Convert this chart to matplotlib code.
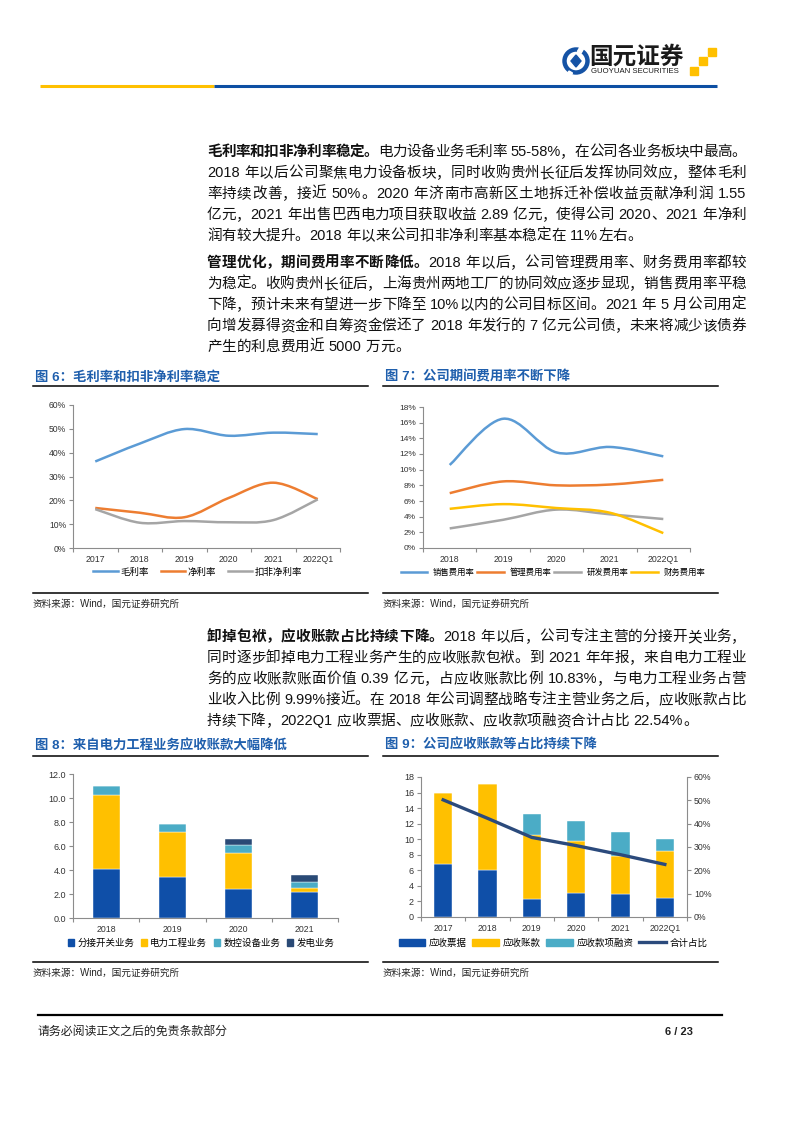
import re
import numpy as np
import matplotlib
matplotlib.use('Agg')
import matplotlib.pyplot as plt
from matplotlib.path import Path
from matplotlib.patches import PathPatch, Rectangle, Circle, Polygon, Patch
from matplotlib.lines import Line2D

plt.rcParams['font.family'] = ['Liberation Sans', 'Noto Sans CJK SC', 'DejaVu Sans']

# ---- data -------------------------------------------------------------
years6 = ['2017', '2018', '2019', '2020', '2021', '2022Q1']
gross_margin = [36.3, 43.8, 49.9, 47.1, 48.4, 47.8]
net_margin = [16.8, 14.8, 12.9, 21.0, 27.4, 20.5]
core_net_margin = [16.3, 10.6, 11.3, 10.8, 11.7, 20.4]
labels6 = ['毛利率', '净利率', '扣非净利率']

years7 = ['2018', '2019', '2020', '2021', '2022Q1']
sales_rate = [10.6, 16.5, 12.2, 12.9, 11.7]
admin_rate = [7.0, 8.5, 8.0, 8.1, 8.7]
rd_rate = [2.5, 3.6, 4.9, 4.3, 3.7]
fin_rate = [5.0, 5.6, 5.1, 4.5, 1.9]
labels7 = ['销售费用率', '管理费用率', '研发费用率', '财务费用率']

years8 = ['2018', '2019', '2020', '2021']
tap_changer = [4.10, 3.39, 2.39, 2.14]
power_eng = [6.18, 3.78, 3.05, 0.39]
cnc_equip = [0.75, 0.66, 0.67, 0.45]
power_gen = [0.0, 0.0, 0.50, 0.58]
labels8 = ['分接开关业务', '电力工程业务', '数控设备业务', '发电业务']

years9 = ['2017', '2018', '2019', '2020', '2021', '2022Q1']
notes_recv = [6.8, 6.1, 2.3, 3.1, 2.9, 2.4]
accounts_recv = [9.1, 11.0, 8.2, 6.7, 5.0, 6.1]
recv_financing = [0.0, 0.0, 2.8, 2.5, 3.0, 1.5]
total_ratio = [50.2, 42.3, 34.1, 30.6, 26.7, 22.54]
labels9 = ['应收票据', '应收账款', '应收款项融资', '合计占比']

para1 = [
    [('毛利率和扣非净利率稳定。', 'heavy'), ('电力设备业务毛利率 55-58%，在公司各业务板块中最高。', 'normal')],
    [('2018 年以后公司聚焦电力设备板块，同时收购贵州长征后发挥协同效应，整体毛利', 'normal')],
    [('率持续改善，接近 50%。2020 年济南市高新区土地拆迁补偿收益贡献净利润 1.55', 'normal')],
    [('亿元，2021 年出售巴西电力项目获取收益 2.89 亿元，使得公司 2020、2021 年净利', 'normal')],
    [('润有较大提升。2018 年以来公司扣非净利率基本稳定在 11%左右。', 'normal')],
]
para2 = [
    [('管理优化，期间费用率不断降低。', 'heavy'), ('2018 年以后，公司管理费用率、财务费用率都较', 'normal')],
    [('为稳定。收购贵州长征后，上海贵州两地工厂的协同效应逐步显现，销售费用率平稳', 'normal')],
    [('下降，预计未来有望进一步下降至 10%以内的公司目标区间。2021 年 5 月公司用定', 'normal')],
    [('向增发募得资金和自筹资金偿还了 2018 年发行的 7 亿元公司债，未来将减少该债券', 'normal')],
    [('产生的利息费用近 5000 万元。', 'normal')],
]
para3 = [
    [('卸掉包袱，应收账款占比持续下降。', 'heavy'), ('2018 年以后，公司专注主营的分接开关业务，', 'normal')],
    [('同时逐步卸掉电力工程业务产生的应收账款包袱。到 2021 年年报，来自电力工程业', 'normal')],
    [('务的应收账款账面价值 0.39 亿元，占应收账款比例 10.83%，与电力工程业务占营', 'normal')],
    [('业收入比例 9.99%接近。在 2018 年公司调整战略专注主营业务之后，应收账款占比', 'normal')],
    [('持续下降，2022Q1 应收票据、应收账款、应收款项融资合计占比 22.54%。', 'normal')],
]

BLUE_T = '#1F5FAD'
AXC = '#8C8C8C'
W, H = 793, 1122

fig = plt.figure(figsize=(W / 100, H / 100), dpi=100)
page = fig.add_axes([0, 0, 1, 1])
page.set_xlim(0, W)
page.set_ylim(H, 0)
page.axis('off')
renderer = fig.canvas.get_renderer()


def ax_px(l, t, r, b):
    return fig.add_axes([l / W, 1 - b / H, (r - l) / W, (b - t) / H])


def smooth_path(xs, ys):
    # Excel-like smoothed line as cubic Bezier segments
    pts = np.column_stack([xs, ys]).astype(float)
    n = len(pts)
    verts, codes = [pts[0]], [Path.MOVETO]
    for i in range(n - 1):
        p0 = pts[i - 1] if i > 0 else pts[i]
        p1, p2 = pts[i], pts[i + 1]
        p3 = pts[i + 2] if i + 2 < n else pts[i + 1]
        verts += [p1 + (p2 - p0) / 6, p2 - (p3 - p1) / 6, p2]
        codes += [Path.CURVE4] * 3
    return Path(verts, codes)


def style_axes(ax, cats, ysize=6.2):
    n = len(cats)
    for s in ['top', 'right']:
        ax.spines[s].set_visible(False)
    for s in ['left', 'bottom']:
        ax.spines[s].set_color(AXC)
        ax.spines[s].set_linewidth(0.8)
    ax.set_xlim(-0.5, n - 0.5)
    ax.set_xticks(range(n))
    ax.set_xticklabels(cats)
    ax.set_xticks(np.arange(-0.5, n), minor=True)
    ax.tick_params(axis='x', which='major', length=0, labelsize=6.3, pad=5, labelcolor='#333333')
    ax.tick_params(axis='x', which='minor', length=3, color=AXC, width=0.8)
    ax.tick_params(axis='y', length=3, color=AXC, width=0.8, labelsize=ysize, labelcolor='#333333', pad=2)
    ax.patch.set_alpha(0)


def put_line(x, y, parts, right=None, size=10.5):
    items = []
    for s, wt in parts:
        for tok in re.findall(r'[A-Za-z0-9.%\-]+| |.', s):
            if tok == ' ':
                items.append((None, size * 0.3 * 100 / 72))
            else:
                t = page.text(x, y, tok, fontsize=size, weight=wt, va='center', ha='left', color='#111111')
                items.append((t, t.get_window_extent(renderer).width))
    total = sum(w for _, w in items)
    gap = (right - x - total) / (len(items) - 1) if right else 0
    cx = x
    for t, w in items:
        if t is not None:
            t.set_x(cx)
        cx += w + gap


def put_para(lines, y0, step=21):
    for i, parts in enumerate(lines):
        last = i == len(lines) - 1
        put_line(207, y0 + i * step, parts, right=None if last else 746)


def frame(x0, x1, ytitle, yline, ybot, ysrc, title):
    page.text(x0 + 2, ytitle, title, color=BLUE_T, fontsize=9.6, weight='heavy', va='center')
    page.plot([x0, x1], [yline, yline], color='black', lw=1.1)
    page.plot([x0, x1], [ybot, ybot], color='black', lw=1.1)
    page.text(x0, ysrc, '资料来源：Wind，国元证券研究所', fontsize=6.9, va='center', color='#222222')


# ---- header ------------------------------------------------------------
page.plot([40, 214], [86, 86], color='#FFC000', lw=2.2, solid_capstyle='butt')
page.plot([214, 717], [86, 86], color='#0D4FA3', lw=2.2, solid_capstyle='butt')
page.add_patch(Circle((576, 61), 11.5, facecolor='white', edgecolor='#1553A5', lw=3.2))
page.add_patch(Polygon([(576, 55), (581, 61), (576, 67), (571, 61)], color='#1553A5'))
page.add_patch(Rectangle((580, 47), 4, 5, color='white', angle=30))
page.add_patch(Rectangle((569, 71), 4, 5, color='white', angle=30))
page.text(589, 57.5, '国元证券', fontsize=17, weight='bold', va='center', color='#1a1a1a')
page.text(591, 71.5, 'GUOYUAN SECURITIES', fontsize=5.6, va='center', color='#1a1a1a')
for sx, sy in [(708, 48), (699, 57), (690, 67)]:
    page.add_patch(Rectangle((sx, sy), 7.5, 7.5, color='#FFC000'))

# ---- body text -----------------------------------------------------------
put_para(para1, 152)
put_para(para2, 263)
put_para(para3, 637)

# ---- figure 6 ------------------------------------------------------------
frame(33, 368, 377, 386, 593, 604, '图 6：毛利率和扣非净利率稳定')
ax6 = ax_px(73, 405, 340, 548)
x6 = np.arange(len(years6))
handles = []
for vals, c in zip([gross_margin, net_margin, core_net_margin], ['#5B9BD5', '#ED7D31', '#A5A5A5']):
    ax6.add_patch(PathPatch(smooth_path(x6, vals), fill=False, edgecolor=c, lw=1.8))
    handles.append(Line2D([], [], color=c, lw=1.8))
style_axes(ax6, years6)
ax6.set_ylim(0, 60)
ax6.set_yticks(range(0, 61, 10))
ax6.set_yticklabels([f'{v}%' for v in range(0, 61, 10)])
fig.legend(handles, labels6, loc='center', bbox_to_anchor=(198 / W, 1 - 572 / H), ncol=3,
           frameon=False, fontsize=6.8, handlelength=2.6, handletextpad=0.3, columnspacing=1.2)

# ---- figure 7 ------------------------------------------------------------
frame(383, 718, 377, 386, 593, 604, '图 7：公司期间费用率不断下降')
ax7 = ax_px(423, 407, 690, 548)
x7 = np.arange(len(years7))
handles = []
for vals, c in zip([sales_rate, admin_rate, rd_rate, fin_rate], ['#5B9BD5', '#ED7D31', '#A5A5A5', '#FFC000']):
    ax7.add_patch(PathPatch(smooth_path(x7, vals), fill=False, edgecolor=c, lw=1.8))
    handles.append(Line2D([], [], color=c, lw=1.8))
style_axes(ax7, years7, ysize=6)
ax7.set_ylim(0, 18)
ax7.set_yticks(range(0, 19, 2))
ax7.set_yticklabels([f'{v}%' for v in range(0, 19, 2)])
fig.legend(handles, labels7, loc='center', bbox_to_anchor=(553 / W, 1 - 573 / H), ncol=4,
           frameon=False, fontsize=6, handlelength=3.2, handletextpad=0.7, columnspacing=0.3)

# ---- figure 8 ------------------------------------------------------------
frame(33, 368, 745, 756, 962, 973, '图 8：来自电力工程业务应收账款大幅降低')
ax8 = ax_px(73, 774, 338, 918)
x8 = np.arange(len(years8))
bottom = np.zeros(len(years8))
cols8 = ['#0F4FA8', '#FFC000', '#4BACC6', '#2A4A76']
for vals, c, lab in zip([tap_changer, power_eng, cnc_equip, power_gen], cols8, labels8):
    ax8.bar(x8, vals, 0.41, bottom=bottom, color=c, label=lab, edgecolor='white', linewidth=0.3)
    bottom += np.array(vals)
style_axes(ax8, years8)
ax8.set_ylim(0, 12)
ax8.set_yticks(np.arange(0, 12.1, 2))
ax8.set_yticklabels([f'{v:.1f}' for v in np.arange(0, 12.1, 2)])
ax8.tick_params(axis='y', labelsize=6.5)
h8 = [Patch(color=c) for c in cols8]
fig.legend(h8, labels8, loc='center', bbox_to_anchor=(201 / W, 1 - 943 / H), ncol=4,
           frameon=False, fontsize=6.8, handlelength=0.7, handleheight=0.7,
           handletextpad=0.3, columnspacing=0.7)

# ---- figure 9 ------------------------------------------------------------
frame(383, 718, 745, 756, 962, 973, '图 9：公司应收账款等占比持续下降')
ax9 = ax_px(421, 777, 687, 917)
x9 = np.arange(len(years9))
bottom = np.zeros(len(years9))
cols9 = ['#0F4FA8', '#FFC000', '#4BACC6']
for vals, c in zip([notes_recv, accounts_recv, recv_financing], cols9):
    ax9.bar(x9, vals, 0.41, bottom=bottom, color=c, edgecolor='white', linewidth=0.3)
    bottom += np.array(vals)
style_axes(ax9, years9)
ax9.set_ylim(0, 18)
ax9.set_yticks(range(0, 19, 2))
ax9.tick_params(axis='y', labelsize=6.5)
ax9r = ax9.twinx()
ax9r.plot(x9, total_ratio, color='#2B4A7C', lw=2.4)
ax9r.set_ylim(0, 60)
ax9r.set_yticks(range(0, 61, 10))
ax9r.set_yticklabels([f'{v}%' for v in range(0, 61, 10)])
for s in ['top', 'left', 'bottom']:
    ax9r.spines[s].set_visible(False)
ax9r.spines['right'].set_color(AXC)
ax9r.spines['right'].set_linewidth(0.8)
ax9r.tick_params(axis='y', length=3, color=AXC, width=0.8, labelsize=6.3, labelcolor='#333333', pad=2)
h9 = [Patch(color=c) for c in cols9] + [Line2D([], [], color='#2B4A7C', lw=2.4)]
fig.legend(h9, labels9, loc='center', bbox_to_anchor=(553 / W, 1 - 943 / H), ncol=4,
           frameon=False, fontsize=6.8, handlelength=2.8, handleheight=0.8,
           handletextpad=0.4, columnspacing=0.6)

# ---- footer --------------------------------------------------------------
page.plot([38, 722], [1015, 1015], color='black', lw=1.6)
page.text(38, 1032, '请务必阅读正文之后的免责条款部分', fontsize=8.6, va='center', color='#222222')
page.text(693, 1032, '6 / 23', fontsize=8, weight='bold', va='center', ha='right', color='#222222')

fig.savefig('out.png', dpi=100)
